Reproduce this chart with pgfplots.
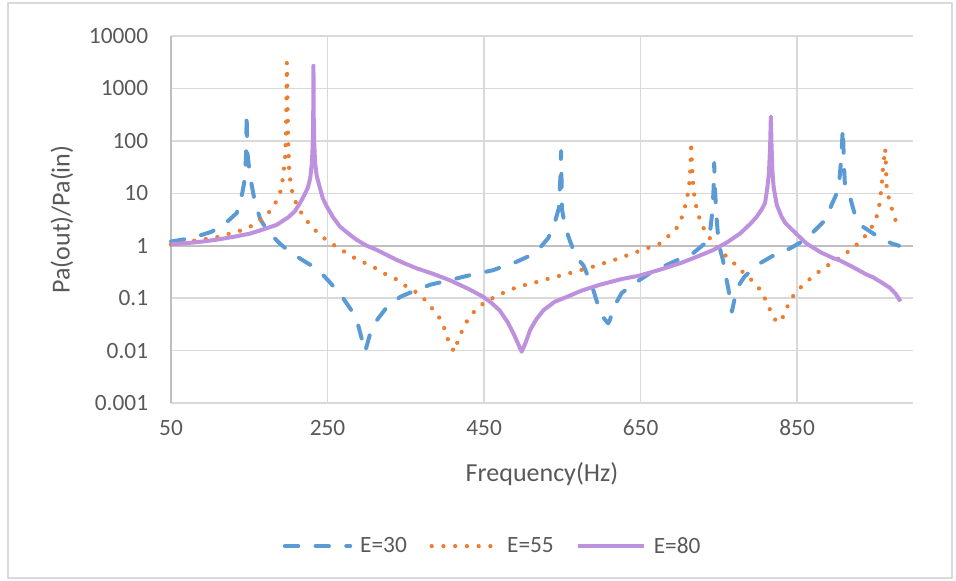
\documentclass[border=0pt]{standalone}
\usepackage{fontspec}
\setmainfont{Carlito}
\usepackage{pgfplots}
\pgfplotsset{compat=1.18}

\definecolor{bl}{RGB}{91,155,213}
\definecolor{orng}{RGB}{237,125,49}
\definecolor{pu}{RGB}{190,145,222}
\definecolor{gridc}{RGB}{217,217,217}
\definecolor{axc}{RGB}{191,191,191}
\definecolor{txt}{RGB}{89,89,89}

\begin{document}
\begin{tikzpicture}
\begin{axis}[
  scale only axis,
  width=556.5pt, height=275.25pt,
  xmin=50, xmax=998,
  ymode=log, ymin=0.001, ymax=10000,
  yminorticks=false,
  xtick={50,250,450,650,850},
  xticklabels={50,250,450,650,850},
  ytick={0.001,0.01,0.1,1,10,100,1000,10000},
  yticklabels={0.001,0.01,0.1,1,10,100,1000,10000},
  extra y ticks={1}, extra y tick labels={},
  extra x ticks={50}, extra x tick labels={},
  extra tick style={major grid style={axc, line width=1.2pt}},
  grid=major,
  major grid style={gridc, line width=1.1pt},
  axis line style={draw=none},
  tick style={draw=none},
  tick label style={font=\fontsize{17.5}{20}\selectfont, text=txt},
  xticklabel style={anchor=center, yshift=-18.75pt},
  yticklabel style={anchor=east, inner sep=0pt, xshift=-17pt},
  xlabel={Frequency(Hz)},
  ylabel={Pa(out)/Pa(in)},
  label style={font=\fontsize{19.5}{22}\selectfont, text=txt},
  xlabel style={at={(axis description cs:0.5,-0.1935)}, anchor=center},
  ylabel style={at={(axis description cs:-0.147,0.5)}, anchor=center},
  legend style={at={(axis description cs:0.434,-0.39)}, anchor=center,
    draw=none, fill=none, legend columns=3,
    font=\fontsize{17.5}{20}\selectfont, text=txt,
    /tikz/every odd column/.append style={column sep=4pt},
    /tikz/every even column/.append style={column sep=15pt}},
  legend image code/.code={\draw[#1] (0pt,0pt) -- (49pt,0pt);},
  clip=false,
  line join=round,
]

% E=30
\addplot[bl, line width=3pt, line cap=round, dash pattern=on 10pt off 13pt] coordinates {
(50,1.2)(70,1.35)(83,1.5)(102,1.85)(112,2.3)(121,2.8)(134,4.2)(141,10)(144.5,19.5)
(146,60)(146.7,340)(147.5,60)(151,21)(157,7)(164,3.2)(174,1.86)(189,1.1)(205,0.7)
(221,0.5)(238,0.35)(253,0.2)(268,0.11)(281,0.057)(289,0.031)(298,0.0095)(304,0.02)
(313,0.038)(326,0.068)(343,0.106)(362,0.14)(381,0.18)(406,0.22)(430,0.27)(461,0.34)
(491,0.49)(506,0.62)(519,0.83)(532,1.4)(541,3)(545.5,5.2)(547.5,20)(548.4,64)
(549.5,5)(553.5,2.3)(560,1.2)(568,0.6)(577,0.42)(588,0.17)(594,0.087)(601,0.045)
(608.5,0.033)(611,0.039)(615,0.065)(626,0.126)(643,0.195)(662,0.3)(679,0.4)(698,0.54)
(717,0.72)(732,1.1)(739,2.0)(742,5)(743.5,15)(744,38)(745,12)(747,3.5)(749,1.5)
(752,0.8)(755,0.55)(758,0.3)(762,0.155)(766.6,0.055)(773,0.155)(783,0.26)(800,0.44)
(818,0.63)(837,0.83)(847,1.0)(860,1.3)(871,1.86)(886,3.1)(894,6)(903,12)(906,40)
(908.4,175)(910,30)(911,15)(918,8)(924,3.8)(934,2.3)(953,1.5)(971,1.1)(980,1.0)
};
\addlegendentry{E=30}

% E=55
\addplot[orng, line width=3.2pt, line cap=round, dash pattern=on 0pt off 8.8pt] coordinates {
(50,1.05)(65,1.15)(80,1.25)(95.6,1.35)(110,1.47)(125,1.7)(141.6,2.0)(156,2.5)(169,3.4)
(179,5.1)(187,8.1)(191.5,13)(193.5,24)(195.6,41)(196.8,120)(197.5,600)(198,3100)
(198.8,600)(199.5,120)(201,25)(203,15)(206,8.7)(212.5,5.3)(221,3.3)(231,2.2)(242.6,1.5)
(255,1.1)(268,0.83)(281,0.62)(295,0.49)(309,0.39)(323.5,0.29)(337.5,0.23)(350,0.17)
(363,0.13)(375.5,0.09)(385,0.06)(394.6,0.039)(401,0.023)(404,0.016)(411.7,0.0095)
(417,0.016)(423,0.026)(430,0.041)(440.6,0.063)(452.6,0.087)(466.6,0.11)(480.7,0.14)
(496,0.17)(511,0.19)(525,0.22)(556,0.29)(587,0.39)(617,0.54)(647,0.78)(675,1.1)
(686,1.55)(697.6,2.3)(704,3.9)(708,6.6)(711,11)(713,19)(714,40)(714.5,95)(715.5,35)
(717.8,11)(720,6.6)(723.5,3.9)(729.5,2.3)(736.6,1.5)(747,0.98)(758,0.66)(769.5,0.46)
(781,0.31)(792,0.22)(802.7,0.145)(810,0.091)(816.8,0.054)(824,0.034)(832,0.044)
(838,0.071)(845,0.11)(856,0.17)(867.5,0.24)(880,0.34)(893,0.46)(906,0.61)(918.6,0.84)
(930.5,1.2)(941,1.8)(949,2.8)(954,4.6)(956,8.1)(958,13)(959,24)(961,45)(962.5,71)
(963.5,32)(964.5,11)(969,6.6)(973,3.9)(979,2.3)
};
\addlegendentry{E=55}

% E=80
\addplot[pu, line width=3pt] coordinates {
(50,1.07)(70,1.12)(90,1.2)(108,1.3)(127,1.45)(151,1.7)(170,2.1)(185,2.5)(200,3.5)
(208,4.5)(215,6.6)(220,9)(225,13)(228,20)(230,38)(231,80)(231.7,300)(232,2700)
(232.3,300)(233,90)(234,40)(236,22)(240,13)(244,8)(249,5.6)(257,3.5)(266,2.3)(279,1.6)
(287,1.3)(300,1.0)(313,0.83)(321,0.72)(338,0.54)(350,0.45)(364,0.37)(385,0.29)
(406,0.22)(430,0.15)(449,0.106)(460,0.08)(470,0.058)(480,0.035)(487,0.022)(493,0.014)
(498,0.0095)(503,0.014)(509,0.025)(517,0.04)(526,0.059)(540,0.085)(556,0.106)(575,0.14)
(598,0.18)(625,0.23)(649,0.27)(675,0.35)(700,0.46)(720,0.6)(743,0.83)(760,1.15)
(777,1.7)(790,2.6)(798,3.5)(805,5)(809,6.5)(812,13)(814,25)(815.5,80)(816.4,290)
(817.3,80)(818.5,25)(820,13)(824,6)(830,3.6)(835,2.7)(841,2.2)(847,1.8)(862,1.1)
(880,0.75)(896,0.58)(905,0.52)(920,0.4)(939,0.28)(947,0.25)(960,0.19)(969,0.155)
(976,0.12)(982,0.087)
};
\addlegendentry{E=80}

% chart frame and page extent
\draw[gridc, line width=1pt] (rel axis cs:-0.2197,-0.4768) rectangle (rel axis cs:1.0526,1.09);
\path (rel axis cs:-0.2305,-0.485) rectangle (rel axis cs:1.058,1.0981);
\end{axis}
\end{tikzpicture}
\end{document}
